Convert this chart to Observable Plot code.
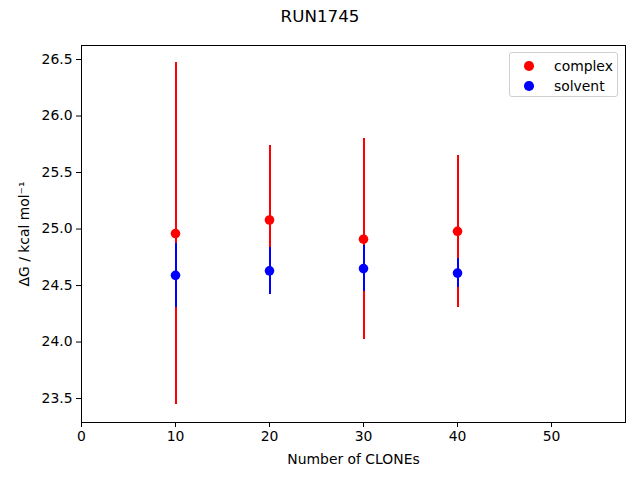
<!DOCTYPE html>
<html>
<head>
<meta charset="utf-8">
<script src="https://cdn.jsdelivr.net/npm/d3@7"></script>
<script src="https://cdn.jsdelivr.net/npm/@observablehq/plot@0.6"></script>
<style>
  body { margin: 0; padding: 0; background: #fff; font-family: "DejaVu Sans", sans-serif; }
  #wrap { position: relative; width: 640px; height: 480px; }
  #title { height: 32px; line-height: 33px; text-align: center; font-size: 16.7px; color: #000; }
  #legend { position: absolute; left: 509px; top: 52px; width: 107px; height: 43px;
    border: 1px solid #d0d0d0; border-radius: 3px; background: rgba(255,255,255,0.8);
    font-size: 13.9px; color: #000; }
  .row { position: absolute; left: 0; height: 20px; line-height: 20px; }
  .dot { position: absolute; left: 14px; top: 5px; width: 9.6px; height: 9.6px; border-radius: 50%; }
  .lab { position: absolute; left: 44px; top: 0; white-space: nowrap; }
</style>
</head>
<body>
<div id="wrap">
  <div id="title">RUN1745</div>
  <div id="chart"></div>
  <div id="legend"></div>
</div>
<script>
const clones = [10, 20, 30, 40];
const complexDG = [24.96, 25.08, 24.91, 24.98];
const complexErr = [1.51, 0.66, 0.89, 0.67];
const solventDG = [24.59, 24.63, 24.65, 24.61];
const solventErr = [0.28, 0.21, 0.20, 0.13];
const seriesNames = ["complex", "solvent"];
const seriesColors = ["red", "blue"];
const xTicks = [0, 10, 20, 30, 40, 50];
const yTicks = [23.5, 24.0, 24.5, 25.0, 25.5, 26.0, 26.5];

const complexRows = clones.map((c, i) => ({x: c, y: complexDG[i], lo: complexDG[i] - complexErr[i], hi: complexDG[i] + complexErr[i]}));
const solventRows = clones.map((c, i) => ({x: c, y: solventDG[i], lo: solventDG[i] - solventErr[i], hi: solventDG[i] + solventErr[i]}));

const plot = Plot.plot({
  width: 640,
  height: 448,
  marginTop: 13,
  marginBottom: 58,
  marginLeft: 81,
  marginRight: 15,
  style: {fontFamily: "DejaVu Sans, sans-serif", fontSize: "13.9px", color: "#000", background: "#fff"},
  x: {domain: [0, 57.87]},
  y: {domain: [23.288, 26.624]},
  marks: [
    Plot.frame({stroke: "#000", strokeWidth: 1}),
    Plot.axisX({ticks: xTicks, tickSize: 5, tickPadding: 4, tickFormat: d3.format("d"),
      label: "Number of CLONEs", labelAnchor: "center", labelArrow: "none", labelOffset: 41}),
    Plot.axisY({ticks: yTicks, tickSize: 5, tickPadding: 4, tickFormat: d3.format(".1f"),
      label: "ΔG / kcal mol⁻¹", labelAnchor: "center", labelArrow: "none", labelOffset: 62}),
    Plot.ruleX(complexRows, {x: "x", y1: "lo", y2: "hi", stroke: seriesColors[0], strokeWidth: 2, shapeRendering: "crispEdges"}),
    Plot.dot(complexRows, {x: "x", y: "y", r: 4.8, fill: seriesColors[0], stroke: "none"}),
    Plot.ruleX(solventRows, {x: "x", y1: "lo", y2: "hi", stroke: seriesColors[1], strokeWidth: 2, shapeRendering: "crispEdges"}),
    Plot.dot(solventRows, {x: "x", y: "y", r: 4.8, fill: seriesColors[1], stroke: "none"})
  ]
});
document.getElementById("chart").appendChild(plot);

const legend = document.getElementById("legend");
seriesNames.forEach((name, i) => {
  const row = document.createElement("div");
  row.className = "row";
  row.style.top = (3 + i * 20) + "px";
  row.style.width = "100%";
  const dot = document.createElement("div");
  dot.className = "dot";
  dot.style.background = seriesColors[i];
  const lab = document.createElement("div");
  lab.className = "lab";
  lab.textContent = name;
  row.appendChild(dot);
  row.appendChild(lab);
  legend.appendChild(row);
});
</script>
</body>
</html>
